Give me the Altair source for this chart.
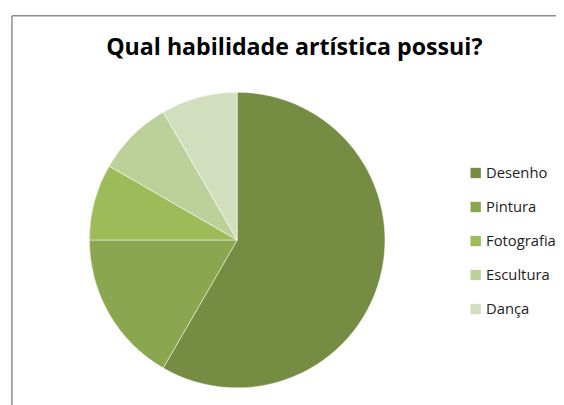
import altair as alt
import pandas as pd

categories = ["Desenho", "Pintura", "Fotografia", "Escultura", "Dança"]
values = [7, 2, 1, 1, 1]
colors = ["#758C42", "#8AA64E", "#9EBB5A", "#BCD19A", "#D1DFBF"]
title_text = "Qual habilidade artística possui?"

df = pd.DataFrame({"cat": categories, "val": values, "ord": list(range(len(categories)))})

pie = alt.Chart(df).mark_arc(radius=150, stroke="#ffffff", strokeWidth=0.5).encode(
    theta=alt.Theta("val:Q", stack=True),
    order=alt.Order("ord:Q"),
    color=alt.Color(
        "cat:N",
        sort=categories,
        scale=alt.Scale(domain=categories, range=colors),
        legend=alt.Legend(
            title=None,
            orient="none",
            legendX=467,
            legendY=157,
            symbolType="square",
            symbolSize=110,
            symbolStrokeWidth=0,
            labelFont="Open Sans",
            labelFontSize=15,
            labelColor="#222222",
            rowPadding=18.5,
            labelOffset=3,
        ),
    ),
).properties(width=556, height=397)

pie = pie.encode(x=alt.value(232.5), y=alt.value(232.5))

title = alt.Chart(pd.DataFrame({"t": [title_text]})).mark_text(
    font="Open Sans", fontSize=23.5, fontWeight="bold", color="#000000", align="center", baseline="alphabetic"
).encode(text="t:N", x=alt.value(290.5), y=alt.value(45))

frame_v = alt.Chart(pd.DataFrame({"a": [0]})).mark_rule(color="#8c8c8c", strokeWidth=1.5).encode(
    x=alt.value(4), y=alt.value(5), y2=alt.value(400)
)
frame_h = alt.Chart(pd.DataFrame({"a": [0]})).mark_rule(color="#8c8c8c", strokeWidth=1.5).encode(
    x=alt.value(4), x2=alt.value(560), y=alt.value(5)
)

chart = alt.layer(frame_v, frame_h, pie, title).properties(
    width=556, height=397, autosize=alt.AutoSizeParams(type="none"), padding=0
).configure_view(stroke=None)

chart.save("out.html", embed_options={"renderer": "svg", "actions": False})
